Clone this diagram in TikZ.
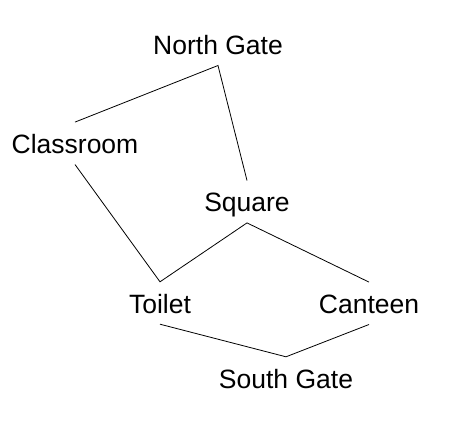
\documentclass[tikz,border=0pt]{standalone}
\usepackage{fontspec}
\setmainfont{Liberation Sans}
\begin{document}
\begin{tikzpicture}[x=1pt,y=-1pt,
  place/.style={anchor=base,font=\fontsize{26.5}{31}\selectfont,text height=20pt,text depth=0pt,inner ysep=11pt,inner xsep=0pt},
  link/.style={draw=black,line width=0.8pt}]
\useasboundingbox (0,0) rectangle (460,425);
\node[place] (ng) at (218,54.3) {North Gate};
\node[place] (cl) at (75,153.3) {Classroom};
\node[place] (sq) at (247,211.7) {Square};
\node[place] (to) at (160,313) {Toilet};
\node[place] (ca) at (369,313.3) {Canteen};
\node[place] (sg) at (286,388) {South Gate};
\draw[link] (cl.north) -- (ng.south) -- (sq.north);
\draw[link] (cl.south) -- (to.north) -- (sq.south) -- (ca.north);
\draw[link] (to.south) -- (sg.north) -- (ca.south);
\end{tikzpicture}
\end{document}
